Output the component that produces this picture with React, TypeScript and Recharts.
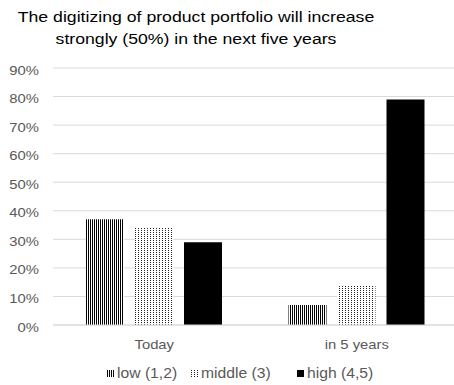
import React from "react";
import { BarChart, Bar, XAxis, YAxis, CartesianGrid, Legend } from "recharts";

const categories = ["Today", "in 5 years"];
const lowValues = [37, 7];
const middleValues = [34, 14];
const highValues = [29, 79];
const yTicks = [0, 10, 20, 30, 40, 50, 60, 70, 80, 90];

const data = categories.map((name, i) => ({
  name,
  low: lowValues[i],
  middle: middleValues[i],
  high: highValues[i],
}));

// legend entries: label, swatch fill, left position of the swatch
const legendItems = [
  { label: "low (1,2)", fill: "url(#lowPat)", left: 107 },
  { label: "middle (3)", fill: "url(#midPat)", left: 191 },
  { label: "high (4,5)", fill: "#000", left: 297 },
];

const FONT = "'Liberation Sans', Arial, sans-serif";
const STRETCH = 1.14; // the source text is a bit wider than plain Arial

function StretchTick(props: any) {
  const { x, y, payload, textAnchor, dy, suffix } = props;
  return (
    <g transform={`translate(${x},${y}) scale(${STRETCH},1)`}>
      <text x={0} y={0} dy={dy} textAnchor={textAnchor} fontSize={13} fill="#595959" fontFamily={FONT}>
        {payload.value}
        {suffix}
      </text>
    </g>
  );
}

function ChartLegend() {
  return (
    <div style={{ position: "relative", width: 454, height: 30, fontFamily: FONT, fontSize: 14, color: "#595959" }}>
      {legendItems.map((it) => (
        <div key={it.label} style={{ position: "absolute", left: it.left, top: 10, display: "flex", alignItems: "center", lineHeight: "16px" }}>
          <svg width={7} height={7} style={{ marginRight: 3 }}>
            <rect width={7} height={7} fill={it.fill} />
          </svg>
          <span style={{ display: "inline-block", transform: `scaleX(${STRETCH - 0.02})`, transformOrigin: "left center" }}>{it.label}</span>
        </div>
      ))}
    </div>
  );
}

export default function App() {
  return (
    <div style={{ position: "absolute", left: 0, top: 0, width: 454, height: 385, overflow: "hidden", background: "#fff" }}>
      <svg width={0} height={0} style={{ position: "absolute" }}>
        <defs>
          <pattern id="lowPat" width={2} height={2} patternUnits="userSpaceOnUse">
            <rect width={2} height={2} fill="#fff" />
            <rect width={1} height={2} fill="#000" />
          </pattern>
          <pattern id="midPat" width={3} height={2} patternUnits="userSpaceOnUse">
            <rect width={3} height={2} fill="#fff" />
            <rect width={1} height={1} fill="#222" />
          </pattern>
        </defs>
      </svg>
      <div
        style={{
          position: "absolute",
          left: 0,
          top: 6,
          width: 392,
          textAlign: "center",
          fontFamily: FONT,
          fontSize: 15.5,
          lineHeight: "21.5px",
          color: "#000",
          transform: `scaleX(${STRETCH})`,
          transformOrigin: "196px 0",
        }}
      >
        The digitizing of product portfolio will increase
        <br />
        strongly (50%) in the next five years
      </div>
      <BarChart
        width={458}
        height={385}
        data={data}
        margin={{ top: 68, right: 0, left: 0, bottom: 0 }}
        barSize={38}
        barGap={11}
      >
        <CartesianGrid vertical={false} stroke="#d9d9d9" />
        <XAxis
          dataKey="name"
          height={30}
          axisLine={{ stroke: "#d9d9d9" }}
          tickLine={false}
          tickSize={0}
          tickMargin={15}
          tick={<StretchTick dy="0.71em" suffix="" />}
        />
        <YAxis
          width={53}
          domain={[0, 90]}
          ticks={yTicks}
          interval={0}
          axisLine={false}
          tickLine={false}
          tickSize={0}
          tickMargin={14}
          tick={<StretchTick dy="0.5em" suffix="%" />}
        />
        <Legend verticalAlign="bottom" height={30} wrapperStyle={{ left: 0, width: 454 }} content={() => <ChartLegend />} />
        <Bar dataKey="low" fill="url(#lowPat)" isAnimationActive={false} />
        <Bar dataKey="middle" fill="url(#midPat)" isAnimationActive={false} />
        <Bar dataKey="high" fill="#000" isAnimationActive={false} />
      </BarChart>
    </div>
  );
}
